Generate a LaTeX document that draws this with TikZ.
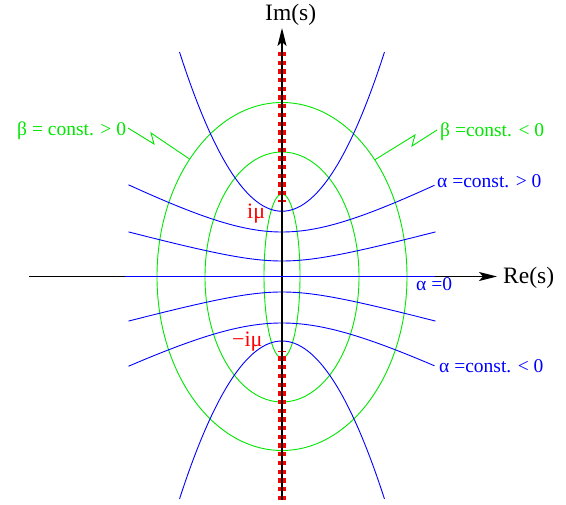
\documentclass[tikz,border=0pt]{standalone}
\usepackage{fontspec}
\setmainfont{Liberation Serif}
\usetikzlibrary{arrows.meta}
\definecolor{xgreen}{RGB}{0,230,0}
\definecolor{xblue}{RGB}{0,0,255}
\definecolor{xred}{RGB}{255,0,0}
\begin{document}
\begin{tikzpicture}[x=1pt,y=-1pt,
  gline/.style={draw=xgreen,line width=0.9pt},
  bline/.style={draw=xblue,line width=0.9pt},
  axisline/.style={draw=black,line width=1.6pt,-{Stealth[length=18pt,width=9pt,inset=4pt]}},
  cutline/.style={draw=xred,line width=7.5pt,dash pattern=on 4.3pt off 4.4pt},
  lab/.style={font=\fontsize{19.5}{22}\selectfont,inner sep=0pt,anchor=base west},
  axlab/.style={font=\fontsize{23.5}{26}\selectfont,inner sep=0pt,anchor=base west},
  redlab/.style={font=\fontsize{22}{26}\selectfont,inner sep=0pt,anchor=base west,text=xred}]
\useasboundingbox (0,0) rectangle (566,505);
% ellipses (beta = const.)
\draw[gline] (282,276.5) ellipse [x radius=125pt,y radius=174pt];
\draw[gline] (282,277) ellipse [x radius=77pt,y radius=125pt];
\draw[gline] (282,276) ellipse [x radius=18pt,y radius=82pt];
% hyperbolas (alpha = const.)
\draw[bline] (179.5,52) .. controls (247.83,264.33) and (316.17,264.33) .. (384.5,52);
\draw[bline] (179.5,499) .. controls (247.83,288.33) and (316.17,288.33) .. (384.5,499);
\draw[bline] plot[domain=-153.5:152.5,samples=60,smooth] ({282+\x},{276.5-44.5*sqrt(1+(\x/85.2)^2)});
\draw[bline] plot[domain=-153.5:153.5,samples=60,smooth] ({282+\x},{276.5-15.5*sqrt(1+(\x/56.9)^2)});
\draw[bline] plot[domain=-153.5:153.5,samples=60,smooth] ({282+\x},{276.5+15.5*sqrt(1+(\x/56.9)^2)});
\draw[bline] plot[domain=-153.5:152.5,samples=60,smooth] ({282+\x},{276.5+46.5*sqrt(1+(\x/93)^2)});
% branch cuts
\coordinate (cutTopA) at (282,52);
\coordinate (cutTopB) at (282,202);
\coordinate (cutBotA) at (282,500);
\coordinate (cutBotB) at (282,351);
\draw[cutline] (cutTopA) -- (cutTopB);
\draw[cutline] (cutBotA) -- (cutBotB);
% axes
\coordinate (reStart) at (29,276.5);
\coordinate (reEnd) at (497,276.5);
\coordinate (imStart) at (282,500);
\coordinate (imEnd) at (282,28);
\draw[axisline] (reStart) -- (reEnd);
\draw[axisline] (imStart) -- (imEnd);
\coordinate (a0A) at (125,276.5);
\coordinate (a0B) at (435,276.5);
\draw[bline] (a0A) -- (a0B);
% axis labels
\node[axlab] (imlab) at (265,21) {Im(s)};
\node[axlab] (relab) at (503,284) {Re(s)};
% beta labels and pointers
\node[lab,text=xgreen] (bpos) at (17,136) {β = const. > 0};
\node[lab,text=xgreen] (bneg) at (440,137) {β =const. < 0};
\coordinate (bposS) at (128,128);
\coordinate (bposE) at (189.5,159);
\coordinate (bnegS) at (437,130);
\coordinate (bnegE) at (374.5,160);
\draw[gline] (bposS) -- (154,144) -- (151,133) -- (bposE);
\draw[gline] (bnegS) -- (412,146) -- (415,135) -- (bnegE);
% alpha labels
\node[lab,text=xblue] (apos) at (437,188) {α =const. > 0};
\node[lab,text=xblue] (azero) at (416,291) {α =0};
\node[lab,text=xblue] (aneg) at (439,373) {α =const. < 0};
% foci labels
\node[redlab] (fup) at (247,219) {iμ};
\node[redlab] (fdn) at (232,347) {−iμ};
\end{tikzpicture}
\end{document}
